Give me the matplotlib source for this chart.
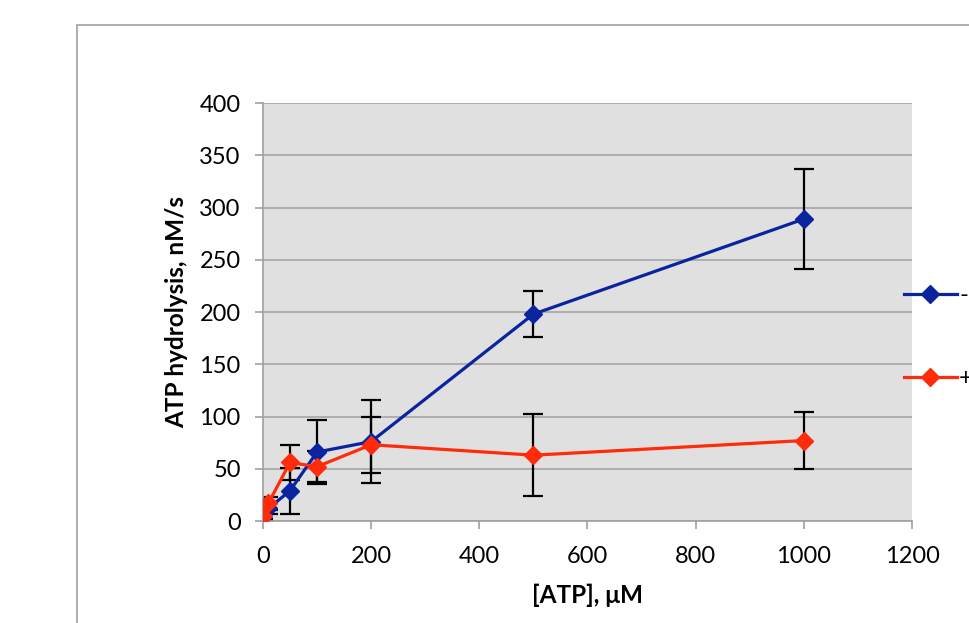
import matplotlib.pyplot as plt
import matplotlib.patches as patches

plt.rcParams['font.family'] = ['Lato', 'DejaVu Sans']

atp = [0, 10, 50, 100, 200, 500, 1000]
minus_rate = [5, 12, 29, 66, 76, 198, 289]
minus_err = [4, 5, 22, 31, 40, 22, 48]
plus_rate = [5, 17, 56, 52, 73, 63, 77]
plus_err = [3, 6, 17, 15, 27, 39, 27]
labels = ['-', '+']

blue = '#0A24A0'
red = '#FF2B0A'

fig = plt.figure(figsize=(9.7, 6.23), dpi=100)
fig.patches.append(patches.Rectangle((0.0794, -0.2), 1.2, 1.1599, transform=fig.transFigure,
                                     fill=False, edgecolor='#A0A0A0', linewidth=1.2))
ax = fig.add_axes([0.2711, 0.1637, 0.6691, 0.6709])
ax.set_facecolor('#E0E0E0')

ax.errorbar(atp, minus_rate, yerr=minus_err, fmt='none', ecolor='black',
            elinewidth=1.6, capsize=7, capthick=1.6, zorder=2)
ax.errorbar(atp, plus_rate, yerr=plus_err, fmt='none', ecolor='black',
            elinewidth=1.6, capsize=7, capthick=1.6, zorder=2)
ax.plot(atp, minus_rate, color=blue, lw=2.3, marker='D', ms=9, label=labels[0], zorder=3)
ax.plot(atp, plus_rate, color=red, lw=2.3, marker='D', ms=9, label=labels[1], zorder=4)

ax.set_xlim(0, 1200)
ax.set_ylim(0, 400)
ax.set_xticks(range(0, 1201, 200))
ax.set_yticks(range(0, 401, 50))
ax.grid(axis='y', color='#A6A6A6', linewidth=1.2)
ax.set_axisbelow(True)
for s in ['top', 'right']:
    ax.spines[s].set_visible(False)
for s in ['left', 'bottom']:
    ax.spines[s].set_color('#A0A0A0')
    ax.spines[s].set_linewidth(1.2)
ax.tick_params(colors='#A0A0A0', labelcolor='black', labelsize=17, length=6, width=1.2)
ax.tick_params(axis='y', pad=10)
ax.tick_params(axis='x', pad=12)

ax.set_xlabel('[ATP], μM', fontsize=17.5, fontweight='bold', labelpad=12)
ax.set_ylabel('ATP hydrolysis, nM/s', fontsize=17.5, fontweight='bold', labelpad=8)

ax.legend(loc='center left', bbox_to_anchor=(0.987, 0.44), frameon=False, fontsize=17,
          handlelength=2.25, labelspacing=2.62, handletextpad=0.1,
          borderpad=0, borderaxespad=0)

plt.savefig('out.png', dpi=100)
